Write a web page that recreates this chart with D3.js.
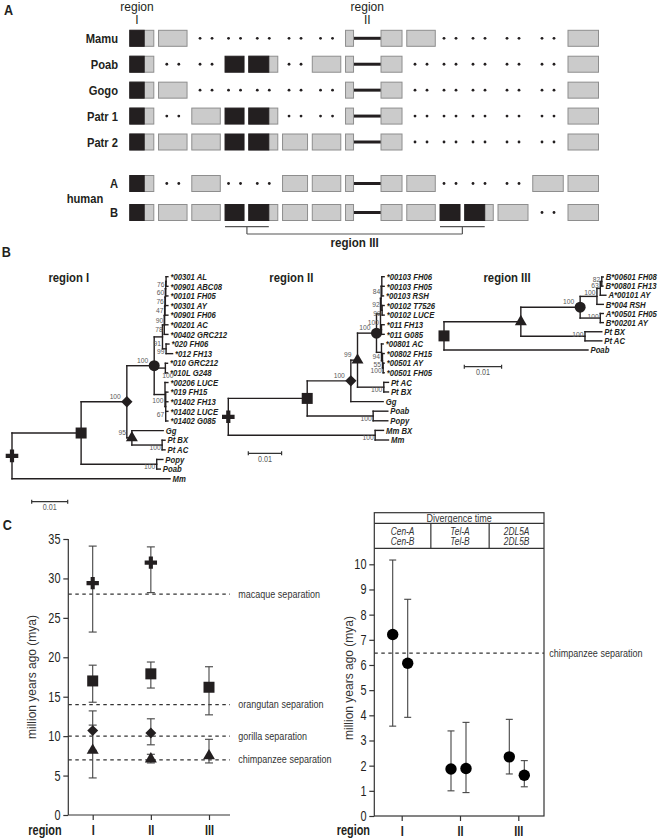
<!DOCTYPE html>
<html><head><meta charset="utf-8">
<script src="https://cdn.jsdelivr.net/npm/d3@7"></script>
<style>body{margin:0;background:#fff} svg{display:block}</style>
</head><body>
<svg id="fig" width="661" height="840"></svg>
<script>
// ================= DATA =================
// ---- Panel A : KIR haplotype gene maps ----
const haplotypes = ["Mamu","Poab","Gogo","Patr 1","Patr 2","A","B"];
const locusWidths = [24,28.5,28.5,19,29,25,28.5,8,21,28.5,20,28.5,30,30.5,30.5]; // relative gene sizes
const hybridBlackFrac = [0.6,0,0,0,0.69,0,0,0,0,0,0,0.7,0,0,0];
const intronAfterLocus = 7;
// H = hybrid (black/grey), g = grey gene, B = black gene, . = absent (dots)
const haplotypeLoci = [
  "Hg.....ggg....g",
  "H..BH.ggg.....g",
  "Hg.....gg.....g",
  "H.gBH..gg.....g",
  "HggBHgggg.....g",
  "H.g..ggggg...gg",
  "HggBHgggggBHg.g"
];
const regionIIILoci = [[3,4],[10,11]];

// ---- Panel B : trees  [id, parent, branch length, bootstrap, node symbol] ----
const treeI = [
  ["#r",null,0,null,"cross"],
  ["#sq","#r",0.0192,null,"square"],
  ["#di","#sq",0.0127,100,"diamond"],
  ["#ci","#di",0.0076,100,"circle"],
  ["#91","#ci",0.0023,91,null],
  ["#78","#91",0.0005,78,null],
  ["#90","#78",0.0001,90,null],
  ["#47","#90",0.0001,47,null],
  ["#76b","#47",0.0001,76,null],
  ["#60","#76b",0.0001,60,null],
  ["#76a","#60",0.0001,76,null],
  ["*00301 AL","#76a",0.0005],
  ["*00901 ABC08","#76a",0.0005],
  ["*00101 FH05","#60",0.0006],
  ["*00301 AY","#76b",0.0007],
  ["*00901 FH06","#47",0.0008],
  ["*00201  AC","#90",0.0009],
  ["*00402 GRC212","#78",0.001],
  ["#99","#91",0.001,99,null],
  ["*020 FH06","#99",0.0008],
  ["*012 FH13","#99",0.0018],
  ["#100a","#ci",0.0031,100,null],
  ["*010 GRC212","#100a",0.0006],
  ["*010L G248","#100a",0.0006],
  ["#100b","#ci",0.003,100,null],
  ["*00206 LUCE","#100b",0.0008],
  ["#67","#100b",0.0002,67,null],
  ["*019 FH15","#67",0.0006],
  ["*01402 FH13","#67",0.0006],
  ["*01402 LUCE","#67",0.0006],
  ["*01402 G085","#67",0.0006],
  ["#tr","#di",0.0014,95,"triangle"],
  ["Gg","#tr",0.0087],
  ["#pt","#tr",0.0084,100,null],
  ["Pt BX","#pt",0.0008],
  ["Pt  AC","#pt",0.0008],
  ["#po","#sq",0.021,100,null],
  ["Popy","#po",0.0017],
  ["Poab","#po",0.001],
  ["Mm","#r",0.0439]
];
const treeII = [
  ["#r",null,0,null,"cross"],
  ["#sq","#r",0.0237,null,"square"],
  ["#di","#sq",0.0131,100,"diamond"],
  ["#tr","#di",0.002,99,"triangle"],
  ["#ci","#tr",0.0057,100,"circle"],
  ["#t100","#ci",0.0012,100,null],
  ["#92","#t100",0.0002,92,null],
  ["#84","#92",0.0002,84,null],
  ["*00103 FH06","#84",0.0007],
  ["*00103 FH05","#84",0.0007],
  ["*00103 RSH","#84",0.0005],
  ["#99","#92",0.0003,99,null],
  ["*00102 T7526","#99",0.0006],
  ["*00102 LUCE","#99",0.0006],
  ["#011","#t100",0.0003,null,null],
  ["*011 FH13","#011",0.0008],
  ["*011 G085","#011",0.0008],
  ["#94","#ci",0.0015,94,null],
  ["*00801 AC","#94",0.0005],
  ["#55","#94",0.0003,55,null],
  ["*00802 FH15","#55",0.0005],
  ["#100c","#55",0.0002,100,null],
  ["*00501 AY","#100c",0.0003],
  ["*00501 FH05","#100c",0.0003],
  ["#pt","#tr",0.0079,100,null],
  ["Pt AC","#pt",0.0014],
  ["Pt BX","#pt",0.0014],
  ["Gg","#di",0.0097],
  ["#po","#sq",0.0198,100,null],
  ["Poab","#po",0.0044],
  ["Popy","#po",0.0044],
  ["#mm","#r",0.0441,100,null],
  ["Mm BX","#mm",0.0025],
  ["Mm","#mm",0.004]
];
const treeIII = [
  ["#r",null,0,null,"square"],
  ["#tr","#r",0.0206,null,"triangle"],
  ["#ci","#tr",0.0159,100,"circle"],
  ["#c100","#ci",0.0045,100,null],
  ["#63","#c100",0.0009,63,null],
  ["#82","#63",0.0004,82,null],
  ["B*00601 FH08","#82",0.0004],
  ["B*00801 FH13","#82",0.0003],
  ["A*00101 AY","#63",0.0015],
  ["B*004 RSH","#c100",0.0017],
  ["#c100b","#ci",0.0054,100,null],
  ["A*00501 FH05","#c100b",0.0008],
  ["B*00201 AY","#c100b",0.0008],
  ["#pt","#tr",0.0172,100,null],
  ["Pt BX","#pt",0.0045],
  ["Pt AC","#pt",0.0045],
  ["Poab","#r",0.0386]
];
const treeTitles = ["region I","region II","region III"];
const scaleBarValue = 0.01;

// ---- Panel C left : node ages ----
const regions = ["I","II","III"];
const separationNodes = ["cross","square","diamond","triangle"];
const separationMean = [[29.4,32.0,null],[17.0,17.9,16.2],[10.7,10.4,null],[8.2,7.1,7.5]];
const separationLow  = [[23.2,28.2,null],[14.3,16.1,12.7],[8.2,8.9,null],[4.7,6.6,6.6]];
const separationHigh = [[34.1,34.0,null],[19.0,19.4,18.8],[13.2,12.2,null],[11.4,7.7,9.6]];
const speciesSplitLabels = ["macaque separation","orangutan separation","gorilla separation","chimpanzee separation"];
const speciesSplitMya = [28,14,10,7];
const leftTicks = [0,5,10,15,20,25,30,35];

// ---- Panel C right : divergence times ----
const pairLabels = [["Cen-A","Cen-B"],["Tel-A","Tel-B"],["2DL5A","2DL5B"]];
const divMean = [[7.21,6.07],[1.87,1.89],[2.35,1.62]];
const divLow  = [[3.57,3.92],[1.0,0.93],[1.67,1.16]];
const divHigh = [[10.17,8.61],[3.38,3.72],[3.84,2.2]];
const chimpSplitMya = 6.47;
const rightTicks = [0,1,2,3,4,5,6,7,8,9,10];

// ================= DRAWING =================
const svg = d3.select("#fig");
const INK = "#231f20", GREY = "#cbcbcb", GREY_EDGE = "#8e8e8e", BOOT = "#5a5a5a";
const FONT = "'Liberation Sans', Arial, Helvetica, sans-serif";

function txt(g, x, y, s, o = {}) {
  return g.append("text")
    .attr("transform", `translate(${x},${y}) scale(${o.sx ?? 0.86},1)`)
    .attr("text-anchor", o.anchor || "start")
    .attr("font-family", FONT)
    .attr("font-size", o.size || 10)
    .attr("font-weight", o.weight || "normal")
    .attr("font-style", o.style || "normal")
    .attr("fill", o.fill || INK)
    .text(s);
}
function symbolPath(type, size) {
  const map = {cross: d3.symbolCross, square: d3.symbolSquare, diamond: d3.symbolSquare,
               triangle: d3.symbolTriangle, circle: d3.symbolCircle};
  return d3.symbol().type(map[type]).size(size)();
}
function marker(g, type, x, y, sizes) {
  g.append("path").attr("d", symbolPath(type, sizes[type]))
    .attr("transform", `translate(${x},${y})` + (type === "diamond" ? " rotate(45)" : ""))
    .attr("fill", INK);
}

// ---------- Panel A ----------
const gA = svg.append("g");
txt(gA, 4, 15, "A", {size: 14, weight: "bold", sx: 0.9});
const GAP = 4.75, INTRON_GAP = 27.5;
let acc = 0; const lStart = [];
locusWidths.forEach((w, i) => { lStart.push(acc); acc += w + (i === intronAfterLocus ? INTRON_GAP : GAP); });
const xA = d3.scaleLinear().domain([0, acc - GAP]).range([129.8, 598.5]);
const lx0 = i => xA(lStart[i]), lx1 = i => xA(lStart[i] + locusWidths[i]);
const yNonHuman = d3.scaleLinear().domain([0, 4]).range([38.3, 142]);
const yHuman = d3.scaleLinear().domain([0, 1]).range([183.5, 212.5]);
const rowY = haplotypes.map((h, i) => i < 5 ? yNonHuman(i) : yHuman(i - 5));

// headers
const hdr1 = lx0(0) + (lx1(0) - lx0(0)) * hybridBlackFrac[0] / 2;
const hdr2 = (lx1(intronAfterLocus) + lx0(intronAfterLocus + 1)) / 2;
[[hdr1, "I"], [hdr2, "II"]].forEach(([x, r]) => {
  txt(gA, x, 11, "region", {size: 12, anchor: "middle", sx: 1});
  txt(gA, x, 23.5, r, {size: 12, anchor: "middle", sx: 1});
});

haplotypes.forEach((h, r) => {
  const y = rowY[r];
  const codes = haplotypeLoci[r];
  txt(gA, 118, y + 4.7, h, {anchor: "end", size: 13, weight: "bold"});
  gA.append("line").attr("x1", lx1(intronAfterLocus)).attr("x2", lx0(intronAfterLocus + 1))
    .attr("y1", y).attr("y2", y).attr("stroke", INK).attr("stroke-width", 3);
  codes.split("").forEach((c, i) => {
    const x0 = lx0(i), x1 = lx1(i);
    if (c === ".") {
      [-6, 6].forEach(d => gA.append("circle").attr("cx", (x0 + x1) / 2 + d).attr("cy", y).attr("r", 1.4).attr("fill", INK));
      return;
    }
    gA.append("rect").attr("x", x0).attr("y", y - 8).attr("width", x1 - x0).attr("height", 16)
      .attr("fill", c === "B" ? INK : GREY).attr("stroke", c === "B" ? INK : GREY_EDGE).attr("stroke-width", 1);
    if (c === "H") {
      gA.append("rect").attr("x", x0).attr("y", y - 8).attr("width", (x1 - x0) * hybridBlackFrac[i]).attr("height", 16)
        .attr("fill", INK).attr("stroke", INK).attr("stroke-width", 1);
    }
  });
});
txt(gA, 103.3, (rowY[5] + rowY[6]) / 2 + 4.7, "human", {anchor: "end", size: 13, weight: "bold"});

// region III bracket
const yB = rowY[6];
const spans = regionIIILoci.map(([a, b]) => [lx0(a), lx0(b) + (lx1(b) - lx0(b)) * hybridBlackFrac[b]]);
const mids = spans.map(s => (s[0] + s[1]) / 2);
const by1 = yB + 14.2, by2 = yB + 21.5;
spans.forEach((s, k) => {
  gA.append("line").attr("x1", s[0]).attr("x2", s[1]).attr("y1", by1).attr("y2", by1).attr("stroke", "#555").attr("stroke-width", 1.2);
  gA.append("line").attr("x1", mids[k]).attr("x2", mids[k]).attr("y1", by1).attr("y2", by2).attr("stroke", "#555").attr("stroke-width", 1.2);
});
gA.append("line").attr("x1", mids[0]).attr("x2", mids[1]).attr("y1", by2).attr("y2", by2).attr("stroke", "#555").attr("stroke-width", 1.2);
txt(gA, (mids[0] + mids[1]) / 2, 246.5, "region III", {anchor: "middle", size: 13.5, weight: "bold"});

// ---------- Panel B ----------
const gB = svg.append("g");
txt(gB, 1.7, 256.7, "B", {size: 14, weight: "bold", sx: 0.9});
const treeMarkerSizes = {cross: 88, square: 121, diamond: 64, triangle: 62, circle: 95};

function drawTree(rows, o) {
  const root = d3.stratify().id(d => d[0]).parentId(d => d[1])(rows);
  const x = d3.scaleLinear().domain([0, scaleBarValue]).range([o.x0, o.x0 + o.px01]);
  root.eachBefore(n => { n.dist = n.parent ? n.parent.dist + n.data[2] : 0; n.px = x(n.dist); });
  const leaves = root.leaves();
  const y = d3.scaleLinear().domain([0, leaves.length - 1]).range([o.y0, o.y1]);
  leaves.forEach((l, i) => l.py = y(i));
  root.eachAfter(n => { if (n.children) n.py = (n.children[0].py + n.children[n.children.length - 1].py) / 2; });
  const g = gB.append("g");
  const line = (x1, y1, x2, y2) => g.append("line").attr("x1", x1).attr("y1", y1).attr("x2", x2).attr("y2", y2)
    .attr("stroke", INK).attr("stroke-width", 1.4).attr("stroke-linecap", "square");
  root.descendants().forEach(n => {
    if (n.parent) line(n.parent.px, n.py, n.px, n.py);
    if (n.children) line(n.px, n.children[0].py, n.px, n.children[n.children.length - 1].py);
  });
  leaves.forEach(l => txt(g, l.px + 2.5, l.py + 3.2, l.id, {size: 9, weight: "bold", style: "italic"}));
  const bopt = {size: 8, sx: 0.84, fill: BOOT};
  root.descendants().forEach(n => {
    const b = n.data[3];
    if (b == null) return;
    if (n.data[4]) { txt(g, n.px - 6, n.py - 3, b, {...bopt, anchor: "end"}); return; }
    const ref = o.bootFirst ? n.children[0] : n.children[n.children.length - 1];
    const cy = (n.py + ref.py) / 2;
    const p = n.parent;
    if (p && p.data[4] && Math.abs(cy - p.py) < 8 && n.px - p.px < 20) {
      // would sit under the parent's symbol: put it on the right of the node
      txt(g, n.px - 3, n.children[n.children.length - 1].py + 5.5, b, {...bopt, anchor: "start"});
    } else {
      txt(g, n.px - 1.5, cy + 2.8, b, {...bopt, anchor: "end"});
    }
  });
  root.descendants().forEach(n => { if (n.data[4]) marker(g, n.data[4], n.px, n.py, treeMarkerSizes); });
  // title
  txt(g, o.titleX, 281.7, o.title, {anchor: "middle", size: 13, weight: "bold", sx: 0.87});
  // scale bar
  const w = x(scaleBarValue) - x(0);
  const sg = g.append("g").attr("stroke", "#333").attr("stroke-width", 1.2);
  sg.append("line").attr("x1", o.sbx).attr("x2", o.sbx + w).attr("y1", o.sby).attr("y2", o.sby);
  [o.sbx, o.sbx + w].forEach(xx => sg.append("line").attr("x1", xx).attr("x2", xx).attr("y1", o.sby - 2).attr("y2", o.sby + 2));
  txt(g, o.sbx + w / 2, o.sby + 8.5, String(scaleBarValue), {anchor: "middle", size: 9, sx: 0.8, fill: BOOT});
}
drawTree(treeI,   {x0: 12,    px01: 36,   y0: 276.7, y1: 478.7, title: treeTitles[0], titleX: 68.8,  sbx: 31.7,  sby: 501.7});
drawTree(treeII,  {x0: 228.3, px01: 33.3, y0: 276.7, y1: 440,   title: treeTitles[1], titleX: 291.3, sbx: 248.3, sby: 453.3});
drawTree(treeIII, {x0: 444,   px01: 37.3, y0: 277,   y1: 350,   title: treeTitles[2], titleX: 507,   sbx: 464.3, sby: 366.7, bootFirst: true});

// ---------- Panel C ----------
const gC = svg.append("g");
txt(gC, 2.7, 530, "C", {size: 14, weight: "bold", sx: 0.9});
function styleAxis(g, bold) {
  g.attr("font-family", null).attr("font-size", null);
  g.select(".domain").remove();
  g.selectAll("line").attr("stroke", "#333").attr("stroke-width", 1.2);
  g.selectAll("text").attr("font-family", FONT).attr("font-size", 14).attr("fill", INK)
    .attr("font-weight", bold ? "bold" : "normal").attr("transform", "scale(0.78,1)");
}
const axisStroke = sel => sel.attr("stroke", "#333").attr("stroke-width", 1.2);

// left plot
const L = {x0: 68.3, x1: 230, y0: 815};
const yL = d3.scaleLinear().domain([0, 35]).range([815, 539]);
const xL = d3.scalePoint().domain(regions).range([92.7, 209]);
gC.append("g").attr("transform", `translate(${L.x0},0)`)
  .call(d3.axisLeft(yL).tickValues(leftTicks).tickSize(5).tickPadding(5)).call(g => styleAxis(g, false));
gC.append("g").attr("transform", `translate(0,${L.y0})`)
  .call(d3.axisBottom(xL).tickSize(5).tickPadding(5)).call(g => styleAxis(g, true));
gC.append("line").attr("x1", L.x0).attr("x2", L.x0).attr("y1", yL(35)).attr("y2", L.y0).call(axisStroke);
gC.append("line").attr("x1", L.x0).attr("x2", L.x1).attr("y1", L.y0).attr("y2", L.y0).call(axisStroke);
txt(gC, 61.7, 835, "region", {anchor: "end", size: 14, weight: "bold", sx: 0.78});
gC.append("text").attr("transform", `translate(31.7,${yL(17.5)}) rotate(-90)`).attr("dy", "0.35em")
  .attr("text-anchor", "middle").attr("font-family", FONT).attr("font-size", 12).attr("fill", "#333")
  .text("million years ago (mya)");
speciesSplitMya.forEach((v, i) => {
  gC.append("line").attr("x1", L.x0).attr("x2", L.x1).attr("y1", yL(v)).attr("y2", yL(v))
    .attr("stroke", "#333").attr("stroke-width", 1.3).attr("stroke-dasharray", "3.5,3.5");
  txt(gC, 238.3, yL(v) + 3.6, speciesSplitLabels[i], {size: 11, sx: 0.82, fill: "#333"});
});
const cMarkerSizes = {cross: 85, square: 121, diamond: 60, triangle: 62, circle: 100};
separationNodes.forEach((s, i) => regions.forEach((r, j) => {
  if (separationMean[i][j] == null) return;
  const x = xL(r);
  const eg = gC.append("g").attr("stroke", "#444").attr("stroke-width", 1.1);
  eg.append("line").attr("x1", x).attr("x2", x).attr("y1", yL(separationLow[i][j])).attr("y2", yL(separationHigh[i][j]));
  [separationLow[i][j], separationHigh[i][j]].forEach(v =>
    eg.append("line").attr("x1", x - 4).attr("x2", x + 4).attr("y1", yL(v)).attr("y2", yL(v)));
}));
separationNodes.forEach((s, i) => regions.forEach((r, j) => {
  if (separationMean[i][j] == null) return;
  marker(gC, s, xL(r), yL(separationMean[i][j]), cMarkerSizes);
}));

// right plot
const R = {x0: 374.3, x1: 544, yTop: 512.7, yH1: 523.3, yH2: 548.3, y0: 816};
const yR = d3.scaleLinear().domain([0, 10]).range([816, 564.3]);
const xR = d3.scalePoint().domain(regions).range([401.7, 518.3]);
const pairOffset = [-9, 6];
gC.append("g").attr("transform", `translate(${R.x0},0)`)
  .call(d3.axisLeft(yR).tickValues(rightTicks).tickSize(5).tickPadding(5)).call(g => styleAxis(g, false));
gC.append("g").attr("transform", `translate(0,${R.y0})`)
  .call(d3.axisBottom(xR).tickSize(5).tickPadding(5)).call(g => styleAxis(g, true));
const fr = gC.append("g").attr("stroke", "#333").attr("stroke-width", 1.2).attr("fill", "none");
fr.append("rect").attr("x", R.x0).attr("y", R.yTop).attr("width", R.x1 - R.x0).attr("height", R.y0 - R.yTop);
fr.append("line").attr("x1", R.x0).attr("x2", R.x1).attr("y1", R.yH1).attr("y2", R.yH1);
fr.append("line").attr("x1", R.x0).attr("x2", R.x1).attr("y1", R.yH2).attr("y2", R.yH2);
const colBounds = [(xR("I") + xR("II")) / 2, (xR("II") + xR("III")) / 2];
colBounds.forEach(b => fr.append("line").attr("x1", b).attr("x2", b).attr("y1", R.yH1).attr("y2", R.yH2));
txt(gC, (R.x0 + R.x1) / 2, 521.7, "Divergence time", {anchor: "middle", size: 11, sx: 0.82, fill: "#333"});
const colEdges = [R.x0, ...colBounds, R.x1];
pairLabels.forEach((p, k) => {
  const cx = (colEdges[k] + colEdges[k + 1]) / 2;
  txt(gC, cx, 535.2, p[0], {anchor: "middle", size: 10.5, sx: 0.8, style: "italic", fill: "#333"});
  txt(gC, cx, 545.2, p[1], {anchor: "middle", size: 10.5, sx: 0.8, style: "italic", fill: "#333"});
});
txt(gC, 370, 835, "region", {anchor: "end", size: 14, weight: "bold", sx: 0.78});
gC.append("text").attr("transform", "translate(348.3,678) rotate(-90)").attr("dy", "0.35em")
  .attr("text-anchor", "middle").attr("font-family", FONT).attr("font-size", 12).attr("fill", "#333")
  .text("million years ago (mya)");
gC.append("line").attr("x1", R.x0).attr("x2", R.x1).attr("y1", yR(chimpSplitMya)).attr("y2", yR(chimpSplitMya))
  .attr("stroke", "#333").attr("stroke-width", 1.3).attr("stroke-dasharray", "3.5,3.5");
txt(gC, 549.3, yR(chimpSplitMya) + 3.6, "chimpanzee separation", {size: 11, sx: 0.82, fill: "#333"});
regions.forEach((r, k) => [0, 1].forEach(j => {
  const x = xR(r) + pairOffset[j];
  const eg = gC.append("g").attr("stroke", "#444").attr("stroke-width", 1.1);
  eg.append("line").attr("x1", x).attr("x2", x).attr("y1", yR(divLow[k][j])).attr("y2", yR(divHigh[k][j]));
  [divLow[k][j], divHigh[k][j]].forEach(v =>
    eg.append("line").attr("x1", x - 3.5).attr("x2", x + 3.5).attr("y1", yR(v)).attr("y2", yR(v)));
}));
regions.forEach((r, k) => [0, 1].forEach(j => {
  gC.append("circle").attr("cx", xR(r) + pairOffset[j]).attr("cy", yR(divMean[k][j])).attr("r", 5.7).attr("fill", "#000");
}));
</script>
</body></html>
